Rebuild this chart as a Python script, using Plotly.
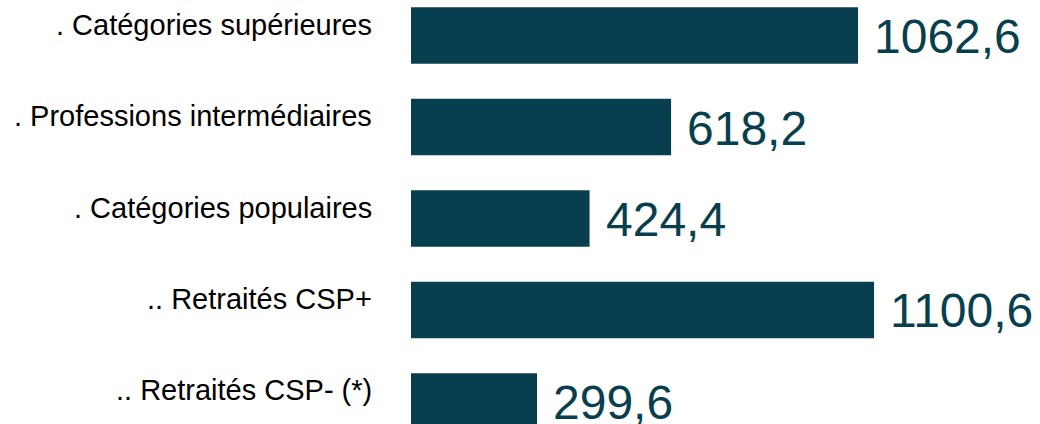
import plotly.graph_objects as go

categories = [". Catégories supérieures", ". Professions intermédiaires", ". Catégories populaires",
              ".. Retraités CSP+", ".. Retraités CSP- (*)"]
values = [1062.6, 618.2, 424.4, 1100.6, 299.6]
value_labels = ["1062,6", "618,2", "424,4", "1100,6", "299,6"]

BAR = "#083F4E"
FONT = "Liberation Sans, Arial, sans-serif"

fig = go.Figure(go.Bar(
    x=values, y=categories, orientation="h",
    marker=dict(color=BAR, line=dict(width=0)),
    hoverinfo="skip",
))

annotations = []
for c, v, t in zip(categories, values, value_labels):
    annotations.append(dict(x=v, y=c, xref="x", yref="y", text=t, showarrow=False,
                            xanchor="left", yanchor="middle", xshift=14, yshift=-1,
                            font=dict(family=FONT, size=48, color=BAR)))
    annotations.append(dict(x=0, y=c, xref="paper", yref="y", text=c, showarrow=False,
                            xanchor="right", yanchor="middle", xshift=-37, yshift=11,
                            font=dict(family=FONT, size=29, color="#000000")))

fig.update_layout(
    width=1040, height=424,
    margin=dict(l=411, r=0, t=0, b=0),
    paper_bgcolor="white", plot_bgcolor="white",
    bargap=0.38, showlegend=False,
    annotations=annotations,
    xaxis=dict(range=[0, 1495], visible=False, fixedrange=True),
    yaxis=dict(type="category", categoryorder="array", categoryarray=categories,
               range=[4.246, -0.388], visible=False, fixedrange=True),
)

fig.write_html("out.html", config={"displayModeBar": False},
               post_script="document.body.style.margin='0';document.body.style.overflow='hidden';")
